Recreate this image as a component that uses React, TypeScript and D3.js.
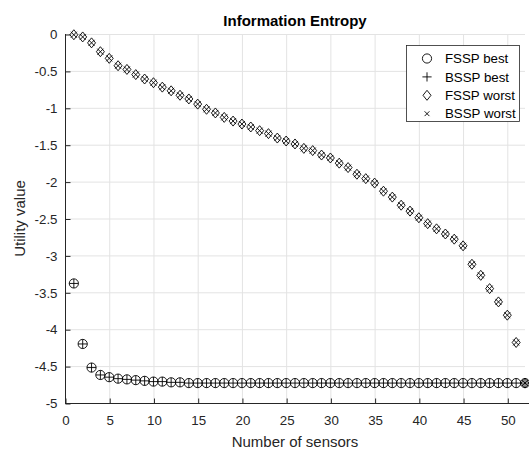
import * as d3 from "d3";
import { useRef, useEffect } from "react";

// values (x = number of sensors 1..52)
const fsspBest = [
  -3.38, -4.2, -4.52, -4.62, -4.65, -4.67, -4.68, -4.69, -4.7, -4.71,
  -4.71, -4.72, -4.72, -4.73, -4.73, -4.73, -4.73, -4.73, -4.73, -4.73,
  -4.73, -4.73, -4.73, -4.73, -4.73, -4.73, -4.73, -4.73, -4.73, -4.73,
  -4.73, -4.73, -4.73, -4.73, -4.73, -4.73, -4.73, -4.73, -4.73, -4.73,
  -4.73, -4.73, -4.73, -4.73, -4.73, -4.73, -4.73, -4.73, -4.73, -4.73,
  -4.73, -4.73,
];
const bsspBest = fsspBest;

const fsspWorst = [
  -0.01, -0.04, -0.12, -0.24, -0.33, -0.43, -0.48, -0.55, -0.61, -0.66,
  -0.72, -0.77, -0.83, -0.88, -0.95, -1.02, -1.07, -1.13, -1.18, -1.22,
  -1.26, -1.31, -1.35, -1.41, -1.45, -1.49, -1.55, -1.58, -1.64, -1.68,
  -1.75, -1.81, -1.9, -1.96, -2.02, -2.13, -2.21, -2.32, -2.4, -2.49,
  -2.57, -2.64, -2.71, -2.78, -2.87, -3.12, -3.27, -3.45, -3.63, -3.81,
  -4.18, -4.73,
];
const bsspWorst = fsspWorst;

const xTicks = [0, 5, 10, 15, 20, 25, 30, 35, 40, 45, 50];
const yTicks = [0, -0.5, -1, -1.5, -2, -2.5, -3, -3.5, -4, -4.5, -5];
const legendLabels = ["FSSP best", "BSSP best", "FSSP worst", "BSSP worst"];

const FONT = "'Liberation Sans', Arial, Helvetica, sans-serif";
const INK = "#262626";

const App = () => {
  const svgRef = useRef<SVGSVGElement>(null);

  useEffect(() => {
    const width = 529;
    const height = 452;
    const left = 65, right = 525, top = 34, bottom = 403;

    const svg = d3.select(svgRef.current);
    svg.selectAll("*").remove();
    svg.attr("width", width).attr("height", height);

    const x = d3.scaleLinear().domain([0, 52]).range([left, right]);
    const y = d3.scaleLinear().domain([-5, 0]).range([bottom, top]);

    svg.append("rect").attr("width", width).attr("height", height).attr("fill", "#fff");

    // grid
    const grid = svg.append("g").attr("stroke", "#e3e3e3").attr("stroke-width", 1);
    xTicks.forEach((t) => {
      grid.append("line")
        .attr("x1", x(t) + 0.5).attr("x2", x(t) + 0.5)
        .attr("y1", top).attr("y2", bottom);
    });
    yTicks.forEach((t) => {
      grid.append("line")
        .attr("x1", left).attr("x2", right)
        .attr("y1", y(t) + 0.5).attr("y2", y(t) + 0.5);
    });

    // axes
    const xAxis = d3.axisBottom(x).tickValues(xTicks).tickSizeInner(-5).tickSizeOuter(0).tickPadding(12);
    const gx = svg.append("g").attr("transform", `translate(0.5, ${bottom + 0.5})`).call(xAxis);
    const yAxis = d3.axisLeft(y).tickValues(yTicks).tickSizeInner(-5).tickSizeOuter(0).tickPadding(12)
      .tickFormat((d) => `${d}`);
    const gy = svg.append("g").attr("transform", `translate(${left + 0.5}, 0.5)`).call(yAxis);

    [gx, gy].forEach((g) => {
      g.select(".domain").attr("stroke", INK);
      g.selectAll(".tick line").attr("stroke", INK);
      g.selectAll(".tick text")
        .attr("fill", INK)
        .attr("font-family", FONT)
        .attr("font-size", "13.3px");
    });
    gx.select(".domain").attr("d", `M${left - 0.5},0H${right + 4}`);
    gy.select(".domain").attr("d", `M0,${top - 0.5}V${bottom}`);
    gy.selectAll(".tick text").attr("x", -8);

    // labels
    svg.append("text")
      .attr("x", (left + right) / 2).attr("y", 26)
      .attr("text-anchor", "middle").attr("font-family", FONT)
      .attr("font-size", "15px").attr("font-weight", "bold").attr("fill", "#000")
      .text("Information Entropy");
    svg.append("text")
      .attr("x", (left + right) / 2).attr("y", 447)
      .attr("text-anchor", "middle").attr("font-family", FONT)
      .attr("font-size", "15px").attr("fill", INK)
      .text("Number of sensors");
    svg.append("text")
      .attr("transform", `translate(25, ${(top + bottom) / 2}) rotate(-90)`)
      .attr("text-anchor", "middle").attr("font-family", FONT)
      .attr("font-size", "15px").attr("fill", INK)
      .text("Utility value");

    // marker shapes
    const r = 4.6;
    const circle = (cx: number, cy: number) => `M${cx + r},${cy}A${r},${r} 0 1 1 ${cx - r},${cy}A${r},${r} 0 1 1 ${cx + r},${cy}Z`;
    const plus = (cx: number, cy: number) => `M${cx - r},${cy}H${cx + r}M${cx},${cy - r}V${cy + r}`;
    const diamond = (cx: number, cy: number) => `M${cx},${cy - 5}L${cx + 4},${cy}L${cx},${cy + 5}L${cx - 4},${cy}Z`;
    const cross = (cx: number, cy: number, s = 3) => `M${cx - s},${cy - s}L${cx + s},${cy + s}M${cx - s},${cy + s}L${cx + s},${cy - s}`;

    const series = [
      { data: fsspBest, shape: circle },
      { data: bsspBest, shape: plus },
      { data: fsspWorst, shape: diamond },
      { data: bsspWorst, shape: cross },
    ];

    const marks = svg.append("g").attr("fill", "none").attr("stroke", "#000").attr("stroke-width", 0.9);
    series.forEach((s) => {
      marks.append("g").selectAll("path")
        .data(s.data)
        .enter()
        .append("path")
        .attr("d", (d, i) => s.shape(x(i + 1), y(d)));
    });

    // legend
    const lg = svg.append("g");
    lg.append("rect")
      .attr("x", 406.5).attr("y", 45.5).attr("width", 113).attr("height", 76)
      .attr("fill", "#fff").attr("stroke", INK).attr("stroke-width", 0.8);
    const shapes = [circle, plus, diamond, (cx: number, cy: number) => cross(cx, cy, 2.4)];
    legendLabels.forEach((label, i) => {
      const cy = 58.5 + i * 18.4;
      lg.append("path").attr("d", shapes[i](427, cy))
        .attr("fill", "none").attr("stroke", "#000").attr("stroke-width", 0.9);
      lg.append("text")
        .attr("x", 445).attr("y", cy).attr("dy", "0.35em")
        .attr("font-family", FONT).attr("font-size", "13.3px").attr("fill", "#000")
        .text(label);
    });
  }, []);

  return (
    <div style={{ position: "absolute", left: 0, top: 0 }}>
      <svg ref={svgRef} />
    </div>
  );
};

export default App;
